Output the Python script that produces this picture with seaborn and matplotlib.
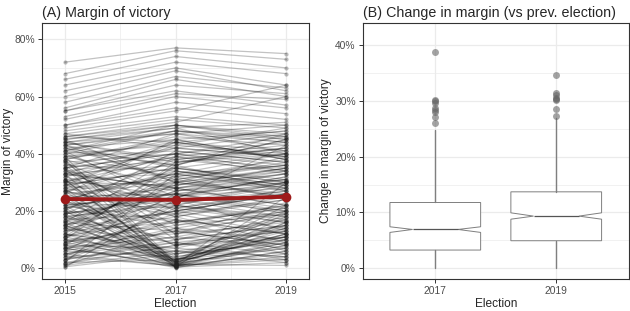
import numpy as np
import pandas as pd
import matplotlib
matplotlib.use("Agg")
import matplotlib.pyplot as plt
from matplotlib.ticker import PercentFormatter, MultipleLocator
import seaborn as sns

# ── data (% margin) ───────────────────────────────────────────────────────────
years = [2015, 2017, 2019]

margin_2015 = [72, 68, 66, 64, 62, 60, 58, 56, 55, 55, 53, 52, 50, 50, 49, 48, 47, 46, 45, 44, 43, 41,
               38, 35, 33, 31, 30, 28, 27, 25, 24, 22, 21, 20, 19, 18, 16, 15, 14, 12, 11, 10, 9, 8, 7, 5, 4,
               46, 45, 44, 44, 43, 42, 42, 41, 40, 40,
               39, 39, 38, 38, 37, 37, 36, 36, 35, 35,
               34, 34, 33, 33, 32, 32, 31, 31, 30, 30,
               29, 29, 28, 28, 27, 27, 26, 26, 25, 25,
               24, 24, 23, 23, 22, 22, 21, 21, 20, 20,
               19, 19, 18, 18, 17, 17, 16, 16, 15, 15,
               14, 14, 13, 13, 12, 12, 11, 11, 10, 10,
               9, 9, 8, 8, 7, 7, 6, 6, 5, 5,
               4, 4, 3, 3, 2, 2, 1.5, 1, 0.5, 0.3,
               45, 43, 41, 39, 37, 35, 33, 31, 29, 27,
               25, 23, 21, 19, 17, 15, 13, 11, 9, 7,
               46, 42, 38, 34, 30, 26, 22, 18, 14, 10,
               44, 40, 36, 32, 28, 24, 20, 16, 12, 8,
               6, 5, 3, 2, 1, 47, 43, 39, 35, 31,
               27, 23, 19, 15, 11, 7, 3, 33, 29, 41]
margin_2017 = [77, 76, 74, 72, 70, 69, 67, 66, 64, 62, 61, 60, 58, 56, 55, 53, 52, 51, 50, 49, 48, 50,
               1, 2, 0.5, 1.5, 3, 0.3, 2.5, 1, 4, 0.8, 2, 5, 1.2, 3.5, 0.6, 2.2, 1.8, 0.4, 3, 1, 2.6, 0.2, 1.4, 0.7, 0.9,
               44, 49, 38, 47, 30, 45, 36, 48, 25, 43,
               41, 32, 46, 28, 40, 20, 42, 34, 47, 15,
               38, 27, 44, 36, 22, 39, 33, 12, 43, 29,
               35, 24, 40, 31, 18, 37, 30, 45, 8, 26,
               33, 28, 21, 38, 26, 14, 30, 24, 41, 17,
               25, 35, 22, 10, 28, 19, 39, 13, 23, 31,
               20, 9, 27, 16, 34, 6, 18, 25, 12, 37,
               15, 22, 7, 30, 11, 19, 4, 26, 13, 9,
               21, 6, 17, 10, 33, 3, 8, 14, 5, 24,
               30, 47, 22, 44, 12, 40, 28, 2, 35, 19,
               33, 8, 29, 24, 3, 27, 20, 36, 16, 1,
               50, 31, 45, 18, 39, 1.5, 26, 23, 32, 5,
               37, 48, 10, 42, 21, 34, 0.5, 29, 7, 17,
               14, 11, 22, 8, 6, 42, 35, 2, 40, 25,
               32, 16, 26, 3, 20, 13, 9, 28, 44, 36]
margin_2019 = [75, 73, 70, 68, 64, 62, 63, 60, 61, 57, 59, 56, 54, 52, 64, 50, 49, 60, 47, 51, 46, 45,
               18, 12, 25, 8, 20, 6, 15, 30, 10, 4, 22, 14, 9, 3, 16, 11, 7, 2, 13, 5, 19, 6, 1, 8, 3,
               48, 40, 42, 50, 34, 38, 45, 44, 30, 49,
               37, 36, 43, 33, 46, 26, 39, 28, 41, 22,
               42, 31, 38, 47, 18, 35, 27, 20, 40, 33,
               30, 20, 44, 25, 24, 40, 35, 38, 14, 21,
               36, 31, 16, 34, 29, 10, 26, 43, 37, 12,
               28, 30, 17, 15, 22, 24, 33, 8, 27, 36,
               14, 13, 30, 21, 29, 11, 9, 32, 16, 41,
               19, 16, 4, 25, 17, 12, 10, 20, 8, 3,
               26, 2, 12, 15, 28, 7, 11, 5, 9, 18,
               39, 44, 30, 41, 23, 36, 34, 12, 31, 28,
               40, 17, 35, 13, 11, 33, 26, 27, 22, 9,
               46, 37, 48, 25, 43, 14, 19, 30, 38, 11,
               42, 45, 18, 39, 27, 29, 10, 35, 15, 6,
               20, 7, 29, 13, 4, 47, 40, 16, 34, 32,
               24, 21, 31, 12, 26, 19, 5, 22, 39, 45]

mean_margin = [24.2, 23.9, 25.0]

# change in margin summary (notched boxplot stats)
change_years = ["2017", "2019"]
change_med = [6.96, 9.35]
change_q1 = [3.27, 4.94]
change_q3 = [11.79, 13.7]
change_notch_lo = [6.43, 8.80]
change_notch_hi = [7.44, 9.94]
change_whis_lo = [0.0, 0.0]
change_whis_hi = [24.7, 27.0]
change_outliers = [[26.0, 27.1, 28.0, 28.3, 28.7, 29.6, 30.0, 30.2, 38.8],
                   [27.3, 28.5, 30.1, 30.3, 30.5, 31.0, 31.4, 34.6]]

# ── long format ────────────────────────────────────────────────────────────────
n = len(margin_2015)
assert len(margin_2017) == n and len(margin_2019) == n
df = pd.DataFrame({
    "seat": np.tile(np.arange(n), 3),
    "year": np.repeat(years, n),
    "margin": margin_2015 + margin_2017 + margin_2019,
})
df_mean = pd.DataFrame({"year": years, "margin": mean_margin})

# ── style (theme_bw-ish) ──────────────────────────────────────────────────────
sns.set_style("white")
plt.rcParams["font.family"] = ["Liberation Sans", "DejaVu Sans"]

GRID = "#EBEBEB"
BORDER = "#333333"
TICKTXT = "#4D4D4D"

def style_axes(ax):
    for s in ax.spines.values():
        s.set_color(BORDER)
        s.set_linewidth(0.8)
        s.set_visible(True)
    ax.grid(True, which="major", color=GRID, lw=0.9, zorder=0)
    ax.grid(True, which="minor", color=GRID, lw=0.5, zorder=0)
    ax.set_axisbelow(True)
    ax.tick_params(which="major", length=3, width=0.7, color=BORDER,
                   labelsize=7.4, labelcolor=TICKTXT, pad=2, left=True, bottom=True)
    ax.tick_params(which="minor", length=0)
    ax.yaxis.set_major_formatter(PercentFormatter(xmax=100, decimals=0))

W, H = 630, 311
fig = plt.figure(figsize=(W / 100, H / 100), dpi=100)
axA = fig.add_axes([42 / W, 1 - 279.3 / H, (309 - 42) / W, (279.3 - 22.7) / H])
axB = fig.add_axes([362.7 / W, 1 - 279.3 / H, (628.8 - 362.7) / W, (279.3 - 22.7) / H])

# ── (A) margin of victory ─────────────────────────────────────────────────────
sns.lineplot(data=df, x="year", y="margin", units="seat", estimator=None,
             color="black", alpha=0.24, lw=0.9, ax=axA, zorder=2)
sns.scatterplot(data=df, x="year", y="margin", color="#222222", alpha=0.3,
                s=9, linewidth=0, ax=axA, zorder=2)
sns.lineplot(data=df_mean, x="year", y="margin", color="#9E1A1A", lw=2.8,
             marker="o", markersize=7, markeredgewidth=0, ax=axA, zorder=4)

axA.set_xlim(2015 - 0.41, 2019 + 0.41)
axA.set_ylim(-3.85, 85.8)
axA.set_xticks(years)
axA.xaxis.set_minor_locator(MultipleLocator(1))
axA.yaxis.set_major_locator(MultipleLocator(20))
axA.yaxis.set_minor_locator(MultipleLocator(10))
style_axes(axA)
axA.set_xlabel("Election", fontsize=8.6, labelpad=1)
axA.set_ylabel("Margin of victory", fontsize=8.6, labelpad=0)
axA.set_title("(A) Margin of victory", fontsize=10.3, loc="left", pad=4)

# ── (B) change in margin ──────────────────────────────────────────────────────
stats = []
for i, lab in enumerate(change_years):
    stats.append(dict(label=lab, med=change_med[i], q1=change_q1[i], q3=change_q3[i],
                      cilo=change_notch_lo[i], cihi=change_notch_hi[i],
                      whislo=change_whis_lo[i], whishi=change_whis_hi[i],
                      fliers=change_outliers[i]))

box_col = "#7F7F7F"
axB.bxp(stats, positions=[0, 1], widths=0.75, shownotches=True, showcaps=False,
        patch_artist=True,
        boxprops=dict(facecolor="white", edgecolor=box_col, lw=0.7),
        whiskerprops=dict(color=box_col, lw=1.0),
        medianprops=dict(color="#555555", lw=0.9),
        flierprops=dict(marker="o", markerfacecolor="#666666", markeredgewidth=0,
                        alpha=0.6, markersize=5))

axB.set_xlim(-0.6, 1.6)
axB.set_ylim(-1.97, 44.0)
axB.set_xticks([0, 1])
axB.set_xticklabels(change_years)
axB.yaxis.set_major_locator(MultipleLocator(10))
axB.yaxis.set_minor_locator(MultipleLocator(5))
style_axes(axB)
axB.grid(False, which="minor", axis="x")
axB.set_xlabel("Election", fontsize=8.6, labelpad=1)
axB.set_ylabel("Change in margin of victory", fontsize=8.6, labelpad=2)
axB.set_title("(B) Change in margin (vs prev. election)", fontsize=10.3, loc="left", pad=4)

fig.savefig("out.png", dpi=100)
